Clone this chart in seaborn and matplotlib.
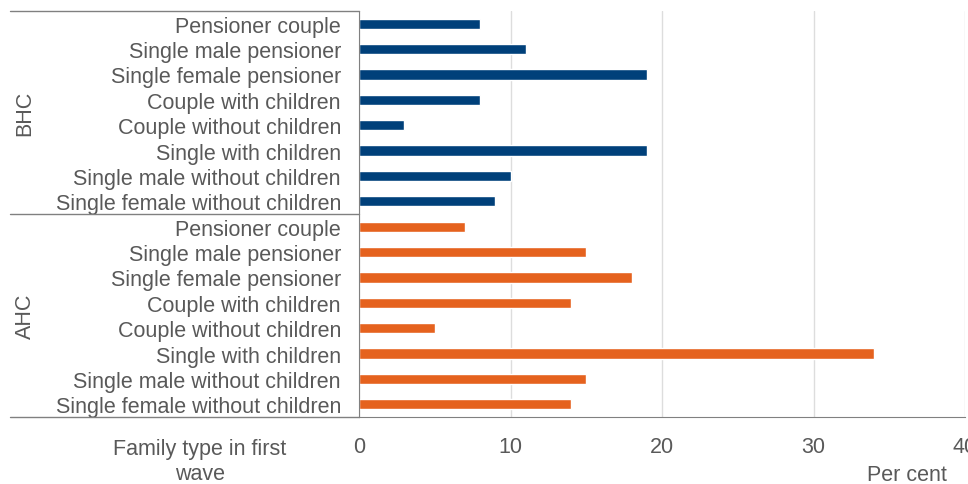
import pandas as pd
import matplotlib.pyplot as plt
import seaborn as sns

# Data
family_types = ['Pensioner couple', 'Single male pensioner', 'Single female pensioner',
                'Couple with children', 'Couple without children', 'Single with children',
                'Single male without children', 'Single female without children']
bhc_values = [8, 11, 19, 8, 3, 19, 10, 9]
ahc_values = [7, 15, 18, 14, 5, 34, 15, 14]
groups = ['BHC', 'AHC']
colors = {'BHC': '#00407A', 'AHC': '#E5621E'}

rows = []
for g, vals in zip(groups, [bhc_values, ahc_values]):
    for ft, v in zip(family_types, vals):
        rows.append({'group': g, 'row': g + '|' + ft, 'value': v})
df = pd.DataFrame(rows)

sns.set_style('white')
plt.rcParams['font.family'] = ['Liberation Sans', 'DejaVu Sans']
text_color = '#595959'
fs = 15.5

fig = plt.figure(figsize=(9.68, 4.85), dpi=100)
ax = fig.add_axes([359 / 968, 1 - 418 / 485, 606 / 968, 406 / 485])

sns.barplot(data=df, x='value', y='row', hue='group', palette=colors, saturation=1,
            order=df['row'].tolist(), dodge=False, width=0.4, legend=False, ax=ax)

ax.set_xlim(0, 40)
ax.set_ylim(15.5, -0.5)
ax.set_xticks([0, 10, 20, 30, 40])
ax.set_yticks(range(16))
ax.set_yticklabels(family_types * 2)
ax.tick_params(axis='y', length=0, pad=13, labelsize=fs, labelcolor=text_color)
ax.tick_params(axis='x', length=6, width=1, color='#808080', pad=8,
               labelsize=fs, labelcolor=text_color)
ax.grid(axis='x', color='#dddddd', linewidth=1)
ax.set_axisbelow(True)
ax.set_xlabel('')
ax.set_ylabel('')

for s in ['top', 'right']:
    ax.spines[s].set_visible(False)
ax.spines['left'].set_color('#808080')
ax.spines['bottom'].set_color('#808080')

# Group separators and labels
ytr = ax.get_yaxis_transform()
left_x = -(359 - 10) / 606
for yy in [-0.5, 7.5, 15.5]:
    ax.plot([left_x, 0], [yy, yy], color='#808080', linewidth=1,
            transform=ytr, clip_on=False)
ax.text(-(359 - 25) / 606, 3.5, 'BHC', rotation=90, ha='center', va='center',
        fontsize=fs, color=text_color, transform=ytr)
ax.text(-(359 - 25) / 606, 11.5, 'AHC', rotation=90, ha='center', va='center',
        fontsize=fs, color=text_color, transform=ytr)

fig.text(200 / 968, 1 - 462 / 485, 'Family type in first\nwave', ha='center', va='center',
         fontsize=fs, color=text_color, linespacing=1.2)
fig.text(907 / 968, 1 - 476 / 485, 'Per cent', ha='center', va='center',
         fontsize=fs, color=text_color)

fig.savefig('out.png', dpi=100)
